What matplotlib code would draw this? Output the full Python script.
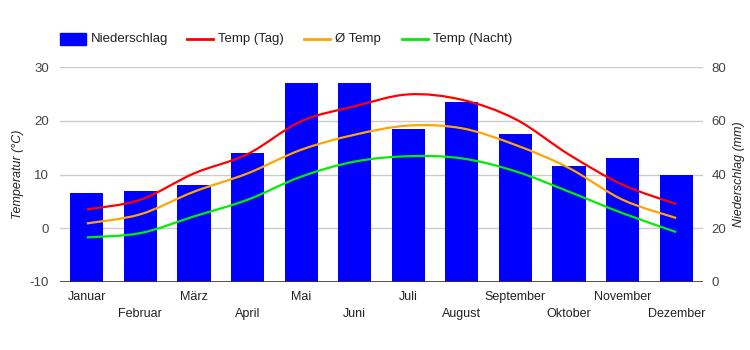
import numpy as np
import matplotlib
matplotlib.use('Agg')
import matplotlib.pyplot as plt
from matplotlib.path import Path
from matplotlib.patches import PathPatch, Rectangle
from matplotlib.lines import Line2D

plt.rcParams['font.family'] = ['Liberation Sans', 'DejaVu Sans']
plt.rcParams['axes.unicode_minus'] = False

# Monthly climate values
months = ['Januar', 'Februar', 'März', 'April', 'Mai', 'Juni',
          'Juli', 'August', 'September', 'Oktober', 'November', 'Dezember']
niederschlag = [33, 34, 36, 48, 74, 74, 57, 67, 55, 43, 46, 40]
temp_tag = [3.5, 5.3, 10.2, 13.8, 19.9, 22.7, 24.9, 23.9, 20.3, 13.7, 8.1, 4.5]
temp_avg = [0.9, 2.6, 6.8, 10.2, 14.6, 17.4, 19.1, 18.6, 15.5, 11.2, 5.3, 1.9]
temp_nacht = [-1.7, -0.9, 2.2, 5.3, 9.6, 12.4, 13.4, 13.0, 10.6, 6.8, 2.8, -0.7]


def smooth_path(xs, ys):
    # Catmull-Rom style smoothing turned into cubic bezier segments
    pts = np.column_stack([xs, ys]).astype(float)
    ext = np.vstack([pts[0], pts, pts[-1]])
    verts = [tuple(pts[0])]
    codes = [Path.MOVETO]
    for i in range(len(pts) - 1):
        p0, p1, p2, p3 = ext[i], ext[i + 1], ext[i + 2], ext[i + 3]
        c1 = p1 + (p2 - p0) / 6.0
        c2 = p2 - (p3 - p1) / 6.0
        verts += [tuple(c1), tuple(c2), tuple(p2)]
        codes += [Path.CURVE4] * 3
    return Path(verts, codes)


fig = plt.figure(figsize=(7.5, 3.5), dpi=100)
ax_p = fig.add_axes([60 / 750, 1 - 282 / 350, 643 / 750, 215 / 350])
ax_t = ax_p.twinx()

x = np.arange(len(months))

# precipitation bars (right axis)
ax_p.bar(x, niederschlag, width=0.62, color='#0000ff', zorder=2)
ax_p.set_ylim(0, 80)
ax_p.set_yticks([0, 20, 40, 60, 80])
ax_p.set_xlim(-0.5, 11.5)

# temperature lines (left axis)
ax_t.set_ylim(-10, 30)
ax_t.set_yticks([-10, 0, 10, 20, 30])
for vals, col in [(temp_tag, '#ff0000'), (temp_avg, '#ffa500'), (temp_nacht, '#00ee00')]:
    ax_t.add_patch(PathPatch(smooth_path(x, vals), facecolor='none',
                             edgecolor=col, lw=1.6, zorder=3))

ax_t.set_zorder(ax_p.get_zorder() + 1)
ax_t.patch.set_visible(False)

# grid lines
for v in [0, 10, 20, 30]:
    ax_p.axhline((v + 10) * 2, color='#cccccc', lw=1, zorder=1)
ax_p.axhline(0, color='#333333', lw=1.2, zorder=4)

# swap sides: temperature on the left, precipitation on the right
ax_t.yaxis.tick_left()
ax_t.yaxis.set_label_position('left')
ax_p.yaxis.tick_right()
ax_p.yaxis.set_label_position('right')

for a in (ax_p, ax_t):
    for s in a.spines.values():
        s.set_visible(False)
    a.tick_params(axis='y', length=0, labelsize=9.5, labelcolor='#444444')
ax_t.tick_params(axis='y', pad=8)
ax_p.tick_params(axis='y', pad=6)

ax_t.set_ylabel('Temperatur (°C)', fontsize=9, style='italic', color='#222222', labelpad=4)
ax_p.set_ylabel('Niederschlag (mm)', fontsize=9, style='italic', color='#222222',
                rotation=90, labelpad=5)

# staggered month labels
ax_p.set_xticks(x)
ax_p.set_xticklabels([''] * len(months))
ax_p.tick_params(axis='x', length=0)
for i, m in enumerate(months):
    yoff = -10.5 if i % 2 == 0 else -23
    ax_p.annotate(m, (i, 0), xytext=(0, yoff), textcoords='offset points',
                  ha='center', va='center', fontsize=9, color='#222222',
                  annotation_clip=False)

# legend across the top
fig.patches.append(Rectangle((60 / 750, 1 - 45 / 350), 26 / 750, 12 / 350,
                             transform=fig.transFigure, color='#0000ff'))
fig.text(91 / 750, 1 - 39 / 350, 'Niederschlag', fontsize=9.5, color='#222222', va='center')
for x0, col, label in [(187, '#ff0000', 'Temp (Tag)'), (304, '#ffa500', 'Ø Temp'),
                       (402, '#00ee00', 'Temp (Nacht)')]:
    fig.lines.append(Line2D([x0 / 750, (x0 + 26) / 750], [1 - 39 / 350] * 2,
                            transform=fig.transFigure, color=col, lw=2))
    fig.text((x0 + 31) / 750, 1 - 39 / 350, label, fontsize=9.5, color='#222222', va='center')

fig.savefig('out.png', dpi=100)
